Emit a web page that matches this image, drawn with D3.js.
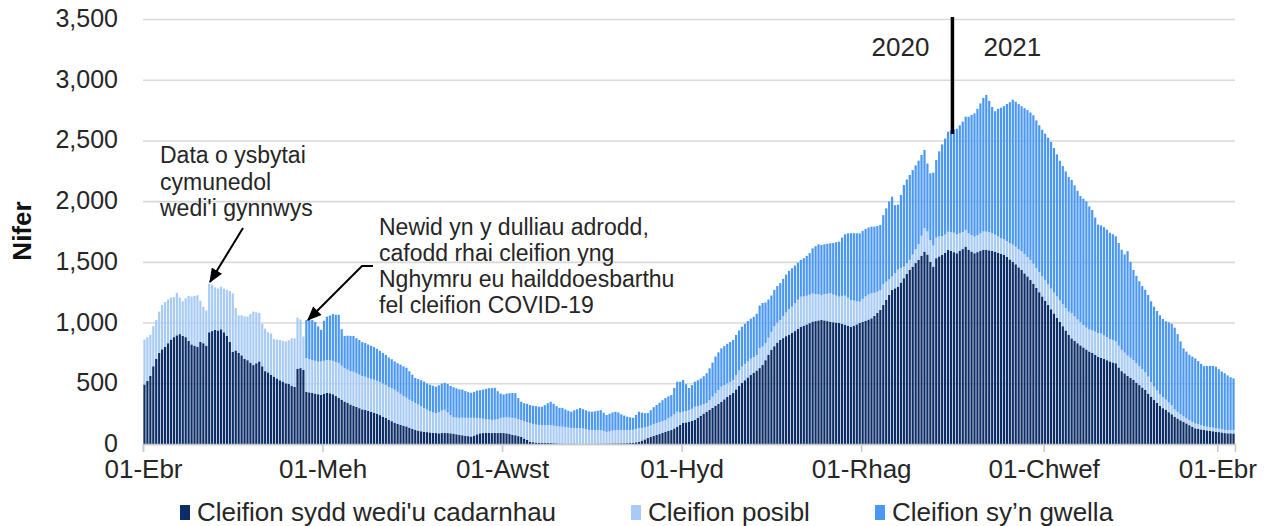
<!DOCTYPE html>
<html><head><meta charset="utf-8">
<script src="https://cdn.jsdelivr.net/npm/d3@7"></script>
<style>
body{margin:0;background:#fff;}
text{font-family:"Liberation Sans",Arial,Helvetica,sans-serif;}
</style>
</head><body>
<svg id="chart" width="1270" height="526"></svg>
<script>
const startDate = "2020-04-01";
const seriesKeys = ["confirmed","suspected","recovering"];
const seriesNames = ["Cleifion sydd wedi'u cadarnhau","Cleifion posibl","Cleifion sy\u2019n gwella"];
const seriesColors = ["#0c2d66","#a8cbf5","#4a98f3"];

const confirmed = [
490,520,560,640,700,750,780,
800,830,860,880,895,905,890,
880,850,820,810,800,840,830,
810,920,930,940,935,945,920,
890,840,760,770,750,730,700,
690,670,650,665,680,640,600,
590,570,555,540,525,515,500,
495,480,470,620,625,610,430,
425,420,415,410,405,415,420,
418,410,395,380,365,350,340,
325,315,305,295,285,280,272,
265,258,250,238,225,215,200,
188,175,165,158,150,145,135,
125,115,110,105,100,98,95,
92,90,88,90,92,90,88,
85,80,75,72,68,65,62,
70,80,88,90,92,92,90,
92,90,91,90,88,82,75,
72,65,60,45,33,19,15,
12,11,11,9,8,8,6,
5,3,3,2,2,2,2,
1,2,2,2,1,2,2,
3,3,3,4,4,5,5,
5,6,6,7,8,10,14,
19,28,38,49,58,66,74,
82,92,100,108,115,128,143,
158,173,178,184,190,198,215,
232,250,266,280,297,315,330,
348,368,388,405,420,450,478,
502,525,548,568,585,605,625,
650,690,735,774,805,835,857,
872,888,900,914,930,948,966,
975,985,995,1007,1012,1018,1021,
1018,1012,1007,1003,1000,997,990,
982,975,966,975,985,997,1005,
1015,1025,1035,1055,1080,1104,1145,
1186,1228,1268,1282,1296,1330,1365,
1400,1433,1460,1490,1516,1550,1584,
1560,1500,1460,1530,1545,1557,1575,
1598,1590,1580,1571,1590,1605,1625,
1600,1585,1571,1580,1590,1600,1598,
1595,1590,1584,1575,1565,1557,1540,
1520,1502,1480,1455,1433,1405,1380,
1350,1320,1285,1250,1215,1180,1145,
1110,1075,1040,1005,970,935,900,
870,850,830,812,795,778,762,
750,735,719,710,700,690,680,
672,665,630,600,582,560,545,
527,505,485,465,445,415,390,
362,340,315,295,280,262,245,
225,210,195,182,170,155,142,
129,125,120,115,112,108,105,
101,98,95,90,88,88,87
];

const suspected = [
370,360,340,330,320,340,365,
370,360,345,330,350,300,285,
320,370,395,410,425,340,300,
290,400,380,350,345,350,360,
380,420,480,350,310,330,350,
360,400,440,420,400,350,350,
330,340,310,320,330,335,345,
360,390,400,420,400,275,278,
275,272,270,268,275,270,272,
270,275,280,288,280,275,272,
275,280,278,276,274,274,272,
272,272,270,272,272,272,270,
272,272,265,255,245,236,230,
226,223,215,205,196,185,175,
168,165,175,185,190,170,150,
135,138,140,145,148,150,154,
145,135,124,118,112,110,108,
108,115,124,128,132,136,140,
140,138,138,142,148,154,150,
148,146,145,146,148,148,145,
142,140,140,138,134,130,130,
130,130,125,120,115,113,112,
111,111,105,96,100,105,110,
110,108,108,107,107,107,110,
113,105,98,94,95,97,99,
98,97,97,105,110,118,123,
100,93,94,96,100,109,95,
85,78,72,82,93,105,115,
124,118,112,107,107,118,128,
135,135,134,134,132,128,165,
152,140,140,150,164,164,164,
180,195,210,217,230,240,247,
240,236,234,234,222,214,206,
215,225,234,228,222,216,230,
240,230,220,206,190,175,190,
200,206,206,190,175,164,170,
151,130,110,125,140,120,95,
88,83,100,115,130,165,195,
190,180,175,170,165,155,150,
150,155,160,155,145,140,138,
135,135,137,140,145,150,151,
150,145,140,135,130,128,130,
135,140,145,150,155,160,160,
165,165,165,165,165,168,170,
170,172,175,178,180,185,190,
206,200,195,190,185,180,180,
185,190,195,200,195,190,185,
185,180,180,175,170,168,165,
165,160,155,150,145,140,120,
110,100,95,90,85,80,75,
60,55,50,45,42,40,40,
40,38,35,32,30,30,30,
28,28,27,26,27,27,28
];

const recovering = [
0,0,0,0,0,0,0,0,0,0,0,
0,0,0,0,0,0,0,0,0,0,0,
0,0,0,0,0,0,0,0,0,0,0,
0,0,0,0,0,0,0,0,0,0,0,
0,0,0,0,0,0,0,0,0,0,0,
313,320,329,320,290,260,330,
357,370,385,390,396,300,264,
280,290,295,288,285,280,278,
275,272,268,264,258,252,247,
242,238,233,236,240,244,247,
235,220,206,210,215,218,216,
218,220,217,220,222,222,235,
240,247,240,235,231,220,212,
206,215,225,231,240,250,258,
262,263,230,200,190,195,200,
205,206,175,150,148,150,148,
150,152,150,151,165,180,192,
180,165,155,154,145,138,134,
145,155,165,160,155,152,151,
155,160,165,150,139,145,150,
151,145,130,120,110,105,99,
115,134,125,118,112,125,140,
148,160,172,181,180,179,215,
247,255,261,220,181,195,206,
215,222,230,245,261,280,300,
310,316,320,325,328,330,330,
329,329,330,330,330,330,340,
350,359,335,315,299,300,302,
303,308,312,316,316,310,305,
303,315,328,343,370,395,412,
412,412,412,412,425,440,453,
480,505,530,550,555,560,563,
560,556,552,549,545,540,536,
570,604,640,659,560,535,600,
673,690,700,695,690,687,665,
643,560,550,600,639,700,755,
790,824,840,851,870,890,910,
933,960,990,1015,1040,1070,1100,
1126,1080,1040,1017,1050,1075,1098,
1130,1160,1194,1194,1194,1194,1200,
1210,1215,1222,1215,1210,1208,1208,
1208,1208,1190,1170,1150,1139,1125,
1110,1099,1080,1060,1040,1040,1040,
1015,992,940,893,890,890,885,
875,870,865,845,825,810,860,
790,741,720,700,686,680,672,
665,659,655,650,645,645,660,
670,673,640,600,560,549,540,
538,536,520,505,494,500,505,
508,508,490,475,467,450,435,
426
];

const xTickDates = ["2020-04-01","2020-06-01","2020-08-01","2020-10-01","2020-12-01","2021-02-01","2021-04-01"];
const xTickLabels = ["01-Ebr","01-Meh","01-Awst","01-Hyd","01-Rhag","01-Chwef","01-Ebr"];
const yTicks = [0,500,1000,1500,2000,2500,3000,3500];
const yearBreak = "2021-01-01";
const yearLabels = ["2020","2021"];
const annotation1 = ["Data o ysbytai","cymunedol","wedi'i gynnwys"];
const annotation2 = ["Newid yn y dulliau adrodd,","cafodd rhai cleifion yng","Nghymru eu hailddoesbarthu","fel cleifion COVID-19"];
const yTitle = "Nifer";

(function draw(){
const parse = d3.utcParse("%Y-%m-%d");
const n = Math.max(confirmed.length, suspected.length, recovering.length);
const start = parse(startDate);
const dates = d3.utcDay.range(start, d3.utcDay.offset(start, n));
const data = dates.map((d,i)=>({date:d, confirmed:confirmed[i]||0, suspected:suspected[i]||0, recovering:recovering[i]||0}));

const svg = d3.select("#chart");
const pLeft = 143, pRight = 1235, pTop = 19, pBottom = 444;

const x = d3.scaleUtc().domain([start, d3.utcDay.offset(start, n)]).range([pLeft, pRight]);
const y = d3.scaleLinear().domain([0, 3500]).range([pBottom, pTop]);
const step = (pRight - pLeft) / n;
const bw = step - 0.75;
const FONT = "'Liberation Sans',Arial,sans-serif";

// gridlines
svg.append("g")
  .attr("transform", `translate(${pLeft},0)`)
  .call(d3.axisLeft(y).tickValues(yTicks).tickSize(-(pRight-pLeft)).tickFormat(""))
  .call(g => g.select(".domain").remove())
  .call(g => g.selectAll("line").attr("stroke", "#d9d9d9").attr("stroke-width", 1.6));

// stacked bars
const stack = d3.stack().keys(seriesKeys)(data);
const color = d3.scaleOrdinal().domain(seriesKeys).range(seriesColors);
svg.append("g").selectAll("g").data(stack).join("g")
  .attr("fill", d => color(d.key))
  .selectAll("rect").data(d => d).join("rect")
  .attr("x", d => x(d.data.date) + (step - bw)/2)
  .attr("width", bw)
  .attr("y", d => y(d[1]))
  .attr("height", d => Math.max(0, y(d[0]) - y(d[1])));

// x axis
const xAxis = svg.append("g")
  .attr("transform", `translate(0,${pBottom})`)
  .call(d3.axisBottom(x).tickValues(xTickDates.map(parse)).tickFormat((d,i)=>xTickLabels[i]).tickSize(8).tickPadding(8));
xAxis.select(".domain").attr("stroke", "#c8c8c8").attr("stroke-width", 1.5);
xAxis.selectAll(".tick line").attr("stroke", "#c8c8c8").attr("stroke-width", 1.5);
xAxis.selectAll("text").attr("font-size", 26).attr("fill", "#262626").attr("font-family", FONT);

// y axis labels
const yAxis = svg.append("g")
  .attr("transform", `translate(${pLeft},0)`)
  .call(d3.axisLeft(y).tickValues(yTicks).tickFormat(d3.format(",")).tickSize(0).tickPadding(25));
yAxis.select(".domain").remove();
yAxis.selectAll("text").attr("font-size", 25).attr("fill", "#262626").attr("font-family", FONT)
  .attr("dy", "0.3em");

// y title
svg.append("text")
  .attr("transform", "translate(31,231) rotate(-90)")
  .attr("text-anchor", "middle")
  .attr("font-size", 26).attr("font-weight", "bold").attr("fill", "#111")
  .text(yTitle);

// year divider
const xb = x(parse(yearBreak));
svg.append("line").attr("x1", xb).attr("x2", xb).attr("y1", pTop - 2).attr("y2", 134)
  .attr("stroke", "#000").attr("stroke-width", 3.5);
svg.append("text").attr("x", xb - 23).attr("y", 56).attr("text-anchor", "end")
  .attr("font-size", 26).attr("fill", "#262626").text(yearLabels[0]);
svg.append("text").attr("x", xb + 31).attr("y", 56).attr("text-anchor", "start")
  .attr("font-size", 26).attr("fill", "#262626").text(yearLabels[1]);

// annotations
const defs = svg.append("defs");
defs.append("marker").attr("id", "arrow").attr("viewBox", "0 0 12 10")
  .attr("refX", 11).attr("refY", 5).attr("markerWidth", 15).attr("markerHeight", 12)
  .attr("markerUnits", "userSpaceOnUse").attr("orient", "auto")
  .append("path").attr("d", "M0,0 L12,5 L0,10 z").attr("fill", "#000");

const a1 = svg.append("text").attr("font-size", 23).attr("fill", "#262626");
annotation1.forEach((t,i) => a1.append("tspan").attr("x", 160).attr("y", 163 + i*26.5).text(t));
svg.append("line").attr("x1", 243).attr("y1", 228).attr("x2", 210).attr("y2", 282)
  .attr("stroke", "#000").attr("stroke-width", 2).attr("marker-end", "url(#arrow)");

const a2 = svg.append("text").attr("font-size", 23).attr("fill", "#262626");
annotation2.forEach((t,i) => a2.append("tspan").attr("x", 379).attr("y", 235 + i*26).text(t));
svg.append("polyline").attr("points", "373,266 362,266 308,320")
  .attr("fill", "none").attr("stroke", "#000").attr("stroke-width", 2).attr("marker-end", "url(#arrow)");

// legend
const legendX = [180, 631, 875];
const lg = svg.append("g");
seriesNames.forEach((name, i) => {
  lg.append("rect").attr("x", legendX[i]).attr("y", 505).attr("width", 10).attr("height", 15)
    .attr("fill", seriesColors[i]);
  lg.append("text").attr("x", legendX[i] + 17).attr("y", 521)
    .attr("font-size", 26).attr("fill", "#262626").text(name);
});
})();
</script>
</body></html>
